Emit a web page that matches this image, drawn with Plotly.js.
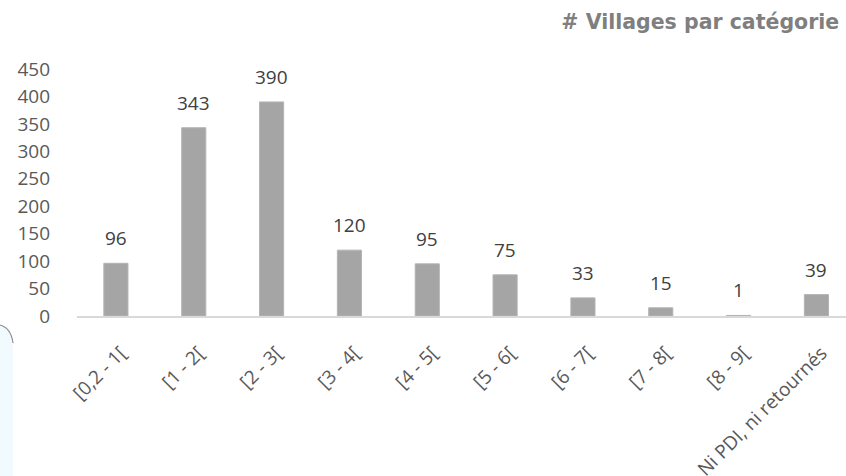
<!DOCTYPE html>
<html>
<head>
<meta charset="utf-8">
<script src="https://cdn.plot.ly/plotly-3.0.1.min.js"></script>
<style>html,body{margin:0;padding:0;background:#fff;}#chart{width:846px;height:476px;}</style>
</head>
<body>
<div id="chart"></div>
<script>
const categories = ["[0,2 - 1[", "[1 - 2[", "[2 - 3[", "[3 - 4[", "[4 - 5[", "[5 - 6[", "[6 - 7[", "[7 - 8[", "[8 - 9[", "Ni PDI, ni retournés"];
const villages = [96, 343, 390, 120, 95, 75, 33, 15, 1, 39];
const yTicks = [0, 50, 100, 150, 200, 250, 300, 350, 400, 450];
const chartTitle = "# Villages par catégorie";

const W = 846, H = 476;
const mL = 77, mR = 0, mT = 69, mB = 160;
const pw = W - mL - mR, ph = H - mT - mB;
const px = x => (x - mL) / pw;
const py = y => (H - mB - y) / ph;
const FONT = 'Open Sans, sans-serif';

const trace = {
  type: 'bar',
  x: categories.map((c, i) => i),
  y: villages,
  width: 0.31,
  marker: {color: '#a5a5a5', line: {color: '#b4b4b4', width: 1}},
  hoverinfo: 'skip'
};

const labels = villages.map((v, i) => ({
  x: i, y: v, xref: 'x', yref: 'y',
  text: String(v), showarrow: false,
  xanchor: 'center', yanchor: 'bottom', yshift: 10,
  font: {family: FONT, size: 19, color: '#404040'}
}));

const layout = {
  width: W, height: H,
  margin: {l: mL, r: mR, t: mT, b: mB, pad: 0},
  paper_bgcolor: '#ffffff', plot_bgcolor: '#ffffff',
  showlegend: false,
  font: {family: FONT, color: '#404040'},
  title: {
    text: '<b>' + chartTitle + '</b>',
    x: 0.992, xanchor: 'right', xref: 'container',
    y: 0.955, yanchor: 'middle', yref: 'container',
    font: {family: 'DejaVu Sans, sans-serif', size: 20.5, color: '#7f7f7f'}
  },
  xaxis: {
    range: [-0.5, 9.38],
    tickmode: 'array',
    tickvals: categories.map((c, i) => i),
    ticktext: categories,
    tickangle: -45,
    ticks: '',
    ticklabelstandoff: 17,
    ticklabelshift: 5,
    tickfont: {family: FONT, size: 19, color: '#595959'},
    showgrid: false,
    zeroline: false,
    showline: true,
    linecolor: '#d9d9d9',
    linewidth: 1.5,
    fixedrange: true
  },
  yaxis: {
    range: [0, 450],
    tickmode: 'array',
    tickvals: yTicks,
    ticktext: yTicks.map(String),
    ticks: '',
    ticklabelstandoff: 26,
    tickfont: {family: FONT, size: 19, color: '#595959'},
    showgrid: false,
    zeroline: false,
    showline: false,
    fixedrange: true
  },
  annotations: labels,
  shapes: [
    {
      type: 'path', xref: 'paper', yref: 'paper', layer: 'below',
      path: 'M ' + px(0) + ',' + py(476) + ' L ' + px(0) + ',' + py(325) +
            ' Q ' + px(11) + ',' + py(328) + ' ' + px(13) + ',' + py(343) +
            ' L ' + px(13) + ',' + py(476) + ' Z',
      fillcolor: '#f0faff',
      line: {width: 0}
    },
    {
      type: 'path', xref: 'paper', yref: 'paper',
      path: 'M ' + px(0) + ',' + py(325) +
            ' Q ' + px(11) + ',' + py(328) + ' ' + px(13) + ',' + py(343),
      line: {color: '#8c8c8c', width: 1.2}
    }
  ]
};

Plotly.newPlot('chart', [trace], layout, {displayModeBar: false, staticPlot: true});
</script>
</body>
</html>
